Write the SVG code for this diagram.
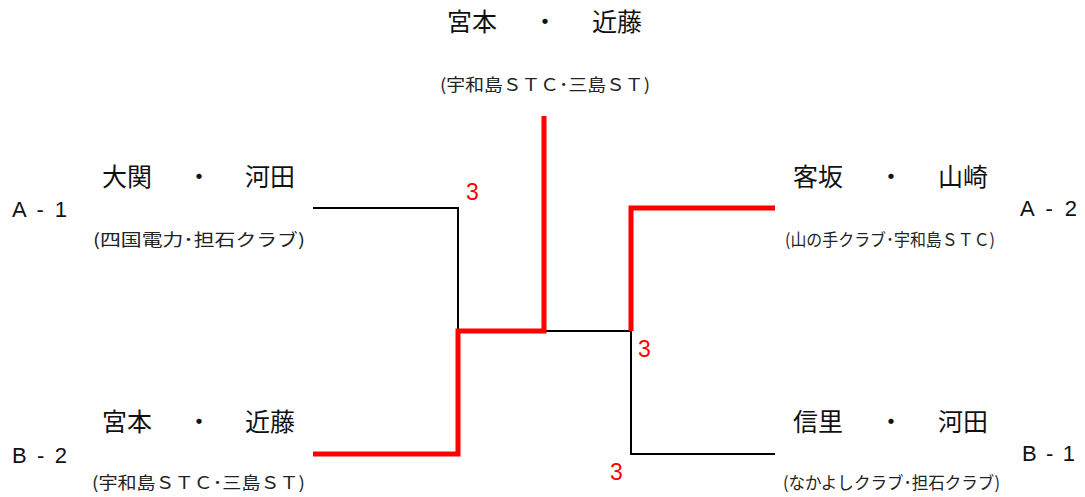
<svg xmlns="http://www.w3.org/2000/svg" width="1085" height="497" viewBox="0 0 1085 497">
<style>
.name{font-family:"Noto Sans CJK JP","Noto Sans CJK SC",sans-serif;font-size:25px;fill:#111}
.club{font-family:"Noto Sans CJK JP","Noto Sans CJK SC",sans-serif;font-size:17px;fill:#222}
.seed{font-family:"Liberation Sans",Arial,sans-serif;font-size:22px;fill:#111}
.score{font-family:"Liberation Sans",Arial,sans-serif;font-size:23px;fill:#ff0000}
.lose{fill:none;stroke:#000;stroke-width:2}
.win{fill:none;stroke:#ff0000;stroke-width:5;stroke-linejoin:miter}
</style>
<rect width="1085" height="497" fill="#fff"/>
<g id="connectors">
<polyline class="lose" points="313,208 458,208 458,331"/>
<polyline class="lose" points="544,331 631,331"/>
<polyline class="lose" points="631,331 631,454 775,454"/>
<polyline class="win" points="313,454 458,454 458,331 544,331 544,116"/>
<polyline class="win" points="631,331 631,208 775,208"/>
</g>
<g id="champion">
<text class="name"><tspan x="447" y="31">宮本</tspan><tspan x="532.5" y="31">・</tspan><tspan x="592" y="31">近藤</tspan></text>
<text class="club" x="440" y="91" textLength="210" lengthAdjust="spacingAndGlyphs">(宇和島ＳＴＣ･三島ＳＴ)</text>
</g>
<g id="a1">
<text class="seed" x="12" y="217" textLength="55" lengthAdjust="spacing">A - 1</text>
<text class="name"><tspan x="102" y="186">大関</tspan><tspan x="186.5" y="186">・</tspan><tspan x="245" y="186">河田</tspan></text>
<text class="club" x="93" y="246" textLength="212" lengthAdjust="spacingAndGlyphs">(四国電力･担石クラブ)</text>
</g>
<g id="b2">
<text class="seed" x="12" y="463" textLength="55" lengthAdjust="spacing">B - 2</text>
<text class="name"><tspan x="102" y="431">宮本</tspan><tspan x="186.5" y="431">・</tspan><tspan x="245" y="431">近藤</tspan></text>
<text class="club" x="92" y="489" textLength="213" lengthAdjust="spacingAndGlyphs">(宇和島ＳＴＣ･三島ＳＴ)</text>
</g>
<g id="a2">
<text class="seed" x="1020" y="216" textLength="57" lengthAdjust="spacing">A - 2</text>
<text class="name"><tspan x="793" y="186">客坂</tspan><tspan x="878.5" y="186">・</tspan><tspan x="938" y="186">山崎</tspan></text>
<text class="club" x="785" y="246" textLength="210" lengthAdjust="spacingAndGlyphs">(山の手クラブ･宇和島ＳＴＣ)</text>
</g>
<g id="b1">
<text class="seed" x="1022" y="461" textLength="53" lengthAdjust="spacing">B - 1</text>
<text class="name"><tspan x="793" y="431">信里</tspan><tspan x="878.5" y="431">・</tspan><tspan x="938" y="431">河田</tspan></text>
<text class="club" x="783" y="489" textLength="217" lengthAdjust="spacingAndGlyphs">(なかよしクラブ･担石クラブ)</text>
</g>
<g id="scores">
<text class="score" x="466" y="200">3</text>
<text class="score" x="638" y="357">3</text>
<text class="score" x="610" y="480">3</text>
</g>
</svg>
